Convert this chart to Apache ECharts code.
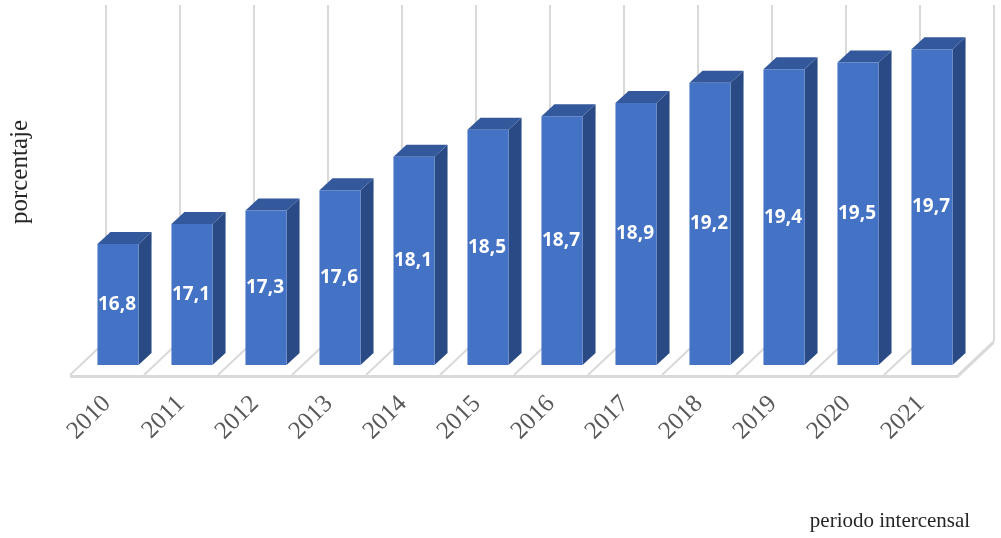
<!DOCTYPE html>
<html>
<head>
<meta charset="utf-8">
<script src="https://cdn.jsdelivr.net/npm/echarts@6/dist/echarts.min.js"></script>
<style>
  html, body { margin: 0; padding: 0; background: #fff; }
  #main { width: 1001px; height: 538px; }
</style>
</head>
<body>
<div id="main"></div>
<script>
// datos
var years = ['2010', '2011', '2012', '2013', '2014', '2015', '2016', '2017', '2018', '2019', '2020', '2021'];
var values = [16.8, 17.1, 17.3, 17.6, 18.1, 18.5, 18.7, 18.9, 19.2, 19.4, 19.5, 19.7];
var yMin = 15;
var yMax = 20;

var chart = echarts.init(document.getElementById('main'));

// colores de la barra 3D
var colFront = '#4472C4';
var colTop = '#33589C';
var colSide = '#2A4A85';
var colFloor = '#D9D9D9';

// desplazamientos de profundidad (px)
var barOff = [11, -10];   // cara frontal de la barra respecto al borde del piso
var barDepth = [13, -12]; // profundidad de la barra
var backOff = [36, -34];  // pared del fondo

// piso + lineas verticales de fondo
function renderFloor(params, api) {
  var i = api.value(0);
  var p = api.coord([i, yMin]);
  var top = api.coord([i, yMax]);
  var w = api.size([1, 0])[0];
  var xl = p[0] - w / 2, xr = p[0] + w / 2, y = p[1];
  var kids = [];
  var line = function (x1, y1, x2, y2) {
    kids.push({ type: 'line', shape: { x1: x1, y1: y1, x2: x2, y2: y2 },
      style: { stroke: colFloor, lineWidth: 2 } });
  };
  // borde frontal con grosor
  kids.push({ type: 'rect', shape: { x: xl, y: y, width: w, height: 3 }, style: { fill: colFloor } });
  line(xl, y, xl + backOff[0], y + backOff[1]);
  line(xl + backOff[0], y + backOff[1], xl + backOff[0], top[1] + backOff[1]);
  if (i === years.length - 1) {
    kids.push({ type: 'polygon', shape: { points: [[xr, y], [xr + backOff[0], y + backOff[1]],
      [xr + backOff[0], y + backOff[1] + 3], [xr, y + 3]] }, style: { fill: colFloor } });
    line(xr, y, xr + backOff[0], y + backOff[1]);
    line(xr + backOff[0], y + backOff[1], xr + backOff[0], top[1] + backOff[1]);
  }
  return { type: 'group', children: kids };
}

// barra 3D
function renderBar(params, api) {
  var i = api.value(0);
  var v = api.value(1);
  var base = api.coord([i, yMin]);
  var top = api.coord([i, v]);
  var w = api.size([1, 0])[0];
  var bw = w * 0.555;
  var x0 = base[0] + barOff[0] - bw / 2, x1 = x0 + bw;
  var yb = base[1] + barOff[1], yt = top[1] + barOff[1];
  var dx = barDepth[0], dy = barDepth[1];
  return {
    type: 'group',
    children: [
      { type: 'polygon', shape: { points: [[x1, yb], [x1 + dx, yb + dy], [x1 + dx, yt + dy], [x1, yt]] },
        style: { fill: colSide } },
      { type: 'polygon', shape: { points: [[x0, yt], [x1, yt], [x1 + dx, yt + dy], [x0 + dx, yt + dy]] },
        style: { fill: colTop } },
      { type: 'rect', shape: { x: x0, y: yt, width: bw, height: yb - yt },
        style: { fill: colFront } },
      { type: 'text', style: {
          text: String(v.toFixed(1)).replace('.', ','),
          x: (x0 + x1) / 2 - 1, y: (yb + yt) / 2,
          align: 'center', verticalAlign: 'middle',
          fill: '#fff', fontSize: 19, fontWeight: 'bold',
          fontFamily: '"Open Sans", sans-serif' } }
    ]
  };
}

var option = {
  animation: false,
  grid: { left: 70, right: 43, top: 39, bottom: 163 },
  xAxis: {
    type: 'category',
    data: years,
    axisLine: { show: false },
    axisTick: { show: false },
    axisLabel: {
      rotate: 45,
      margin: 25,
      color: '#595959',
      fontSize: 25,
      fontFamily: '"Liberation Serif", serif'
    }
  },
  yAxis: {
    type: 'value',
    min: yMin,
    max: yMax,
    show: false
  },
  series: [
    {
      type: 'custom',
      renderItem: renderFloor,
      data: years.map(function (y, i) { return [i, yMin]; }),
      encode: { x: 0, y: 1 },
      silent: true,
      z: 1
    },
    {
      type: 'custom',
      renderItem: renderBar,
      data: values.map(function (v, i) { return [i, v]; }),
      encode: { x: 0, y: 1 },
      z: 2
    }
  ],
  graphic: [
    { type: 'text', x: 20, y: 172, rotation: Math.PI / 2,
      style: { text: 'porcentaje', align: 'center', verticalAlign: 'middle',
        fill: '#262626', fontSize: 25, fontFamily: '"Liberation Serif", serif' } },
    { type: 'text', x: 890, y: 521,
      style: { text: 'periodo intercensal', align: 'center', verticalAlign: 'middle',
        fill: '#262626', fontSize: 21, fontFamily: '"Liberation Serif", serif' } }
  ]
};

chart.setOption(option);
</script>
</body>
</html>
